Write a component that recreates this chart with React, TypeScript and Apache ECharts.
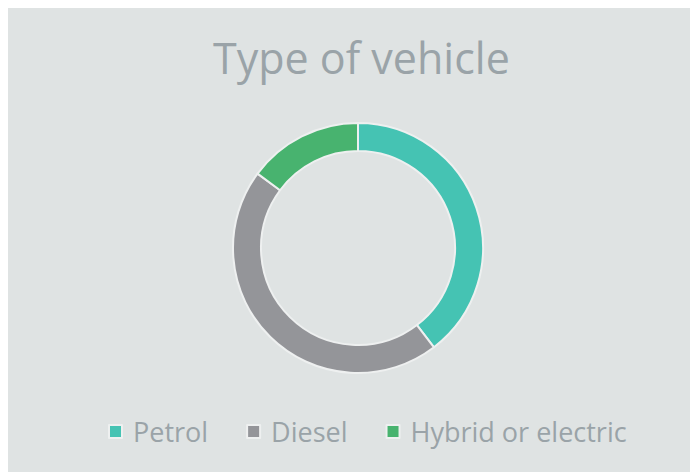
import React, { useEffect, useRef } from "react";
import * as echarts from "echarts";

const categories = ["Petrol", "Diesel", "Hybrid or electric"];
const values = [40, 46, 15];
const colors = ["#45c3b3", "#949599", "#48b36f"];

export default function App() {
  const ref = useRef<HTMLDivElement>(null);
  useEffect(() => {
    const chart = echarts.init(ref.current!, null, { renderer: "svg" });
    chart.setOption({
      animation: false,
      backgroundColor: "#dfe3e3",
      title: {
        text: "Type of vehicle",
        left: 200,
        top: 23,
        textStyle: {
          fontFamily: "Open Sans",
          fontWeight: "normal",
          fontSize: 43,
          color: "#9aa3a8",
        },
      },
      legend: {
        top: 405,
        left: 95,
        itemWidth: 13,
        itemHeight: 13,
        itemGap: 38,
        icon: "rect",
        data: categories,
        textStyle: {
          fontFamily: "Open Sans",
          fontSize: 27,
          color: "#9aa3a8",
          padding: [0, 0, 0, 6],
        },
      },
      series: [
        {
          type: "pie",
          center: [350, 240],
          radius: [97, 125],
          startAngle: 90,
          clockwise: true,
          label: { show: false },
          labelLine: { show: false },
          itemStyle: { borderColor: "#eef0f0", borderWidth: 2 },
          emphasis: { disabled: true },
          data: categories.map((c, i) => ({
            name: c,
            value: values[i],
            itemStyle: { color: colors[i] },
          })),
        },
      ],
    });
    return () => chart.dispose();
  }, []);
  return <div ref={ref} style={{ width: 690, height: 464 }} />;
}
